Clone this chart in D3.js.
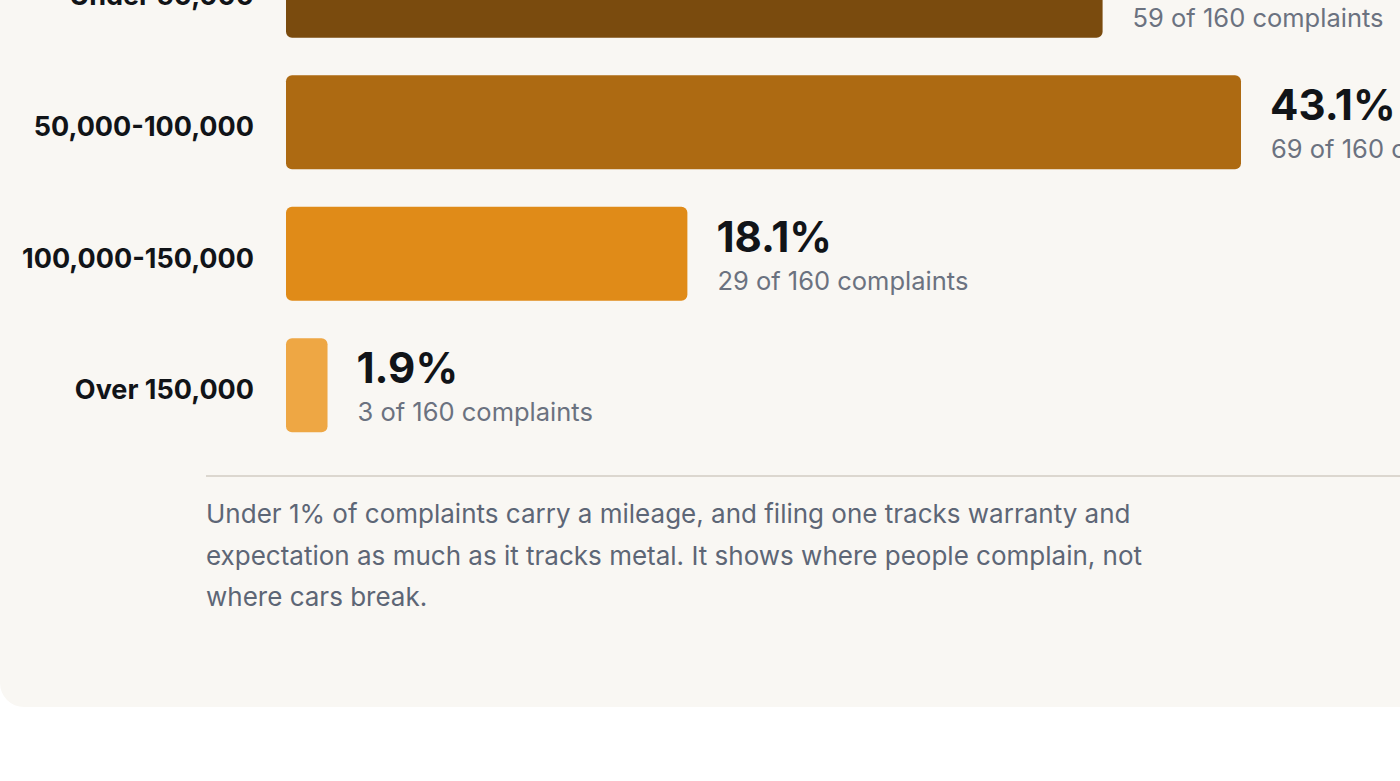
<!DOCTYPE html>
<html>
  <head>
    <meta charset="utf-8">
    <script src="https://cdn.jsdelivr.net/npm/d3@7"></script>
    <style>
      html, body { margin: 0; padding: 0; background: #ffffff; overflow: hidden; }
      svg { display: block; font-family: Inter, "Noto Sans", sans-serif; }
    </style>
  </head>
  <body>
    <script>
// mileage buckets and complaint counts
var categories = ["Under 50,000", "50,000-100,000", "100,000-150,000", "Over 150,000"];
var counts = [59, 69, 29, 3];
var total = 160;
var barColors = ["#7a4b0e", "#ad6a12", "#e08b18", "#eea744"];
var noteLines = [
  "Under 1% of complaints carry a mileage, and filing one tracks warranty and",
  "expectation as much as it tracks metal. It shows where people complain, not",
  "where cars break."
];

var width = 1400, height = 781;

var rows = categories.map(function (c, i) {
  return { name: c, count: counts[i], pct: counts[i] / total * 100, color: barColors[i] };
});

var svg = d3.select("body").append("svg")
  .attr("width", width)
  .attr("height", height);

// card (top and right run off the photographed area)
svg.append("rect")
  .attr("x", 0)
  .attr("y", -300)
  .attr("width", width + 100)
  .attr("height", 707 + 300)
  .attr("rx", 24)
  .style("fill", "#f9f7f3");

var x = d3.scaleLinear()
  .domain([0, d3.max(rows, function (d) { return d.pct; })])
  .range([286, 1241]);

var y = d3.scaleBand()
  .domain(categories)
  .range([-75, 451])
  .paddingInner(0.285)
  .paddingOuter(0.1425);

var fmt = d3.format(".1f");

var g = svg.selectAll("g.row")
  .data(rows)
  .enter()
  .append("g")
  .attr("class", "row");

g.append("rect")
  .attr("x", x(0))
  .attr("y", function (d) { return y(d.name); })
  .attr("width", function (d) { return x(d.pct) - x(0); })
  .attr("height", y.bandwidth())
  .attr("rx", 6)
  .style("fill", function (d) { return d.color; });

g.append("text")
  .attr("x", 254)
  .attr("y", function (d) { return y(d.name) + y.bandwidth() / 2 + 14; })
  .attr("text-anchor", "end")
  .style("font-size", "27px")
  .style("font-weight", 700)
  .style("fill", "#111418")
  .text(function (d) { return d.name; });

g.append("text")
  .attr("x", function (d) { return x(d.pct) + 29; })
  .attr("y", function (d) { return y(d.name) + y.bandwidth() / 2 - 2; })
  .style("font-size", "42px")
  .style("font-weight", 700)
  .style("fill", "#111418")
  .text(function (d) { return fmt(d.pct) + "%"; });

g.append("text")
  .attr("x", function (d) { return x(d.pct) + 30; })
  .attr("y", function (d) { return y(d.name) + y.bandwidth() / 2 + 36; })
  .style("font-size", "25.5px")
  .style("fill", "#6b7280")
  .text(function (d) { return d.count + " of " + total + " complaints"; });

// divider
svg.append("line")
  .attr("x1", 206)
  .attr("x2", width + 50)
  .attr("y1", 476)
  .attr("y2", 476)
  .style("stroke", "#dcd7cf")
  .style("stroke-width", 2);

// note under the chart
svg.append("text")
  .style("font-size", "26px")
  .style("fill", "#5d6676")
  .selectAll("tspan")
  .data(noteLines)
  .enter()
  .append("tspan")
  .attr("x", 206)
  .attr("y", function (d, i) { return 523 + i * 41.7; })
  .text(function (d) { return d; });
    </script>
  </body>
</html>
